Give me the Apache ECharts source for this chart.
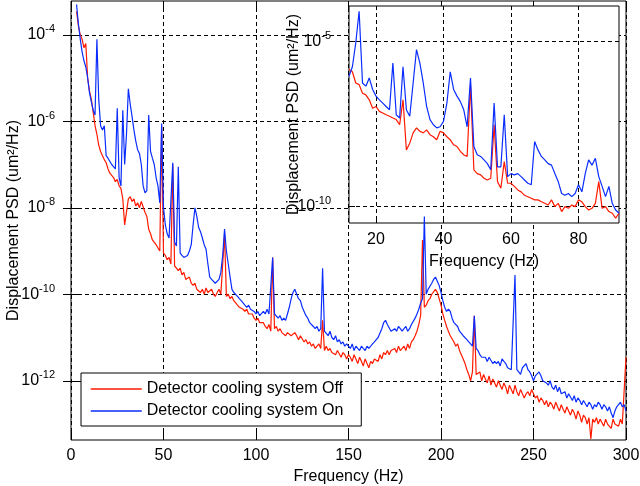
<!DOCTYPE html>
<html>
<head>
<meta charset="utf-8">
<script src="https://cdn.jsdelivr.net/npm/echarts@6/dist/echarts.min.js"></script>
<style>
  html, body { margin: 0; padding: 0; background: #fff; }
  #main { width: 640px; height: 486px; }
</style>
</head>
<body>
<div id="main"></div>
<script>
var myChart = echarts.init(document.getElementById('main'));

// main plot: one value per 1 Hz bin, starting at 3 Hz
var mainStart = 3;
var offMain = [
    3.5e-4, 1.6e-4, 1e-4, 7.9e-5, 5e-5, 6.3e-5, 1e-5, 5e-6, 3.2e-6, 1.6e-6,
    7.9e-7, 5e-7, 2.8e-7, 2e-7, 1.6e-7, 1.3e-7, 1.1e-7, 7.9e-8, 6.3e-8, 5.6e-8,
    5e-8, 4e-8, 4.5e-8, 3.2e-8, 2.8e-8, 1.6e-8, 4e-9, 7.9e-9, 1.6e-8, 1.8e-8,
    1.4e-8, 1.6e-8, 1.1e-8, 1.3e-8, 1e-8, 1.4e-8, 1.3e-8, 7.9e-9, 6.3e-9, 3.2e-9,
    2.5e-9, 1.8e-9, 2e-9, 1.4e-9, 1.3e-9, 1e-9, 7.9e-7, 8.9e-10, 7.9e-10, 6.3e-10,
    7.1e-10, 5e-10, 1e-7, 4.5e-10, 4e-10, 3.5e-10, 4e-10, 2.8e-10, 3.2e-10, 2.2e-10,
    2e-10, 2.5e-10, 1.8e-10, 1.6e-10, 1.8e-10, 1.3e-10, 1.4e-10, 1.1e-10, 1.3e-10, 1e-10,
    1.4e-10, 1.1e-10, 1e-10, 1.3e-10, 1e-10, 8.9e-11, 1.1e-10, 1.3e-10, 1e-10, 1.1e-10,
    2.5e-9, 8.9e-11, 1e-10, 7.9e-11, 8.9e-11, 7.1e-11, 6.3e-11, 5.6e-11, 5e-11, 5e-11,
    4.5e-11, 4e-11, 4.5e-11, 3.5e-11, 3.2e-11, 3.5e-11, 2.8e-11, 2.5e-11, 2.8e-11, 2.2e-11,
    2e-11, 2.2e-11, 1.8e-11, 1.6e-11, 2e-11, 1.4e-11, 7.1e-10, 1.6e-11, 1.8e-11, 1.4e-11,
    1.6e-11, 1.3e-11, 1.4e-11, 1.1e-11, 1.3e-11, 1.4e-11, 1.1e-11, 1e-11, 1.3e-11, 1.1e-11,
    8.9e-12, 1.1e-11, 1e-11, 7.9e-12, 8.9e-12, 7.1e-12, 7.9e-12, 6.3e-12, 7.1e-12, 5.6e-12,
    6.3e-12, 7.1e-12, 5.6e-12, 2.5e-11, 5e-12, 6.3e-12, 5e-12, 5.6e-12, 4.5e-12, 5e-12,
    4e-12, 5e-12, 4.5e-12, 3.5e-12, 4.5e-12, 4e-12, 3.2e-12, 4e-12, 3.5e-12, 2.8e-12,
    4e-12, 3.2e-12, 2.5e-12, 3.5e-12, 2.8e-12, 2.2e-12, 3.2e-12, 2.5e-12, 2e-12, 2.8e-12,
    2.5e-12, 3.2e-12, 3.5e-12, 2.8e-12, 4e-12, 3.2e-12, 4.5e-12, 4e-12, 5e-12, 4e-12,
    5e-12, 4.5e-12, 5.6e-12, 4.5e-12, 6.3e-12, 5e-12, 5.6e-12, 6.3e-12, 5e-12, 7.1e-12,
    5.6e-12, 7.9e-12, 8.9e-12, 1.1e-11, 1.4e-11, 2e-11, 3.2e-11, 1.8e-9, 5e-11, 5.6e-11,
    7.1e-11, 7.9e-11, 1e-10, 1.1e-10, 1.3e-10, 1.1e-10, 7.9e-11, 5.6e-11, 3.5e-11, 2.5e-11,
    1.8e-11, 1.4e-11, 1.1e-11, 1e-11, 7.9e-12, 6.3e-12, 7.1e-12, 5e-12, 4e-12, 3.2e-12,
    2.5e-12, 1.8e-12, 1.4e-12, 1e-12, 1.6e-12, 3.2e-11, 1.4e-12, 1.3e-12, 1.6e-12, 1e-12,
    1.4e-12, 1.1e-12, 8.9e-13, 1.3e-12, 7.9e-13, 1.1e-12, 8.9e-13, 7.1e-13, 1e-12, 7.9e-13,
    6.3e-13, 8.9e-13, 7.1e-13, 5e-13, 7.9e-13, 6.3e-13, 5e-13, 7.9e-13, 5.6e-13, 4.5e-13,
    6.3e-13, 5e-13, 4e-13, 5e-13, 5.6e-13, 4.5e-13, 6.3e-13, 5e-13, 4e-13, 4.5e-13,
    3.2e-13, 4e-13, 3.5e-13, 2.8e-13, 3.5e-13, 2.5e-13, 3.2e-13, 2.8e-13, 2.2e-13, 3.2e-13,
    2.5e-13, 2e-13, 2.8e-13, 2.2e-13, 1.8e-13, 2.5e-13, 2e-13, 1.6e-13, 2.2e-13, 1.8e-13,
    1.3e-13, 2e-13, 1.6e-13, 1.1e-13, 1.6e-13, 1.4e-13, 1e-13, 1.4e-13, 4.5e-14, 1.3e-13,
    1.1e-13, 1.4e-13, 1e-13, 1.3e-13, 1.4e-13, 8.9e-14, 1.3e-13, 1e-13, 1.1e-13, 7.9e-14,
    1.3e-13, 1e-13, 1.1e-13, 8.9e-14, 1.3e-13, 1e-13, 1.1e-13, 3.5e-12
];
var onMain = [
    5e-4, 1.8e-4, 7.9e-5, 4e-5, 2.5e-5, 1.8e-5, 1e-5, 4.5e-6, 2.8e-6, 1.8e-6,
    1.4e-6, 7.9e-5, 3.2e-6, 7.9e-7, 6.3e-7, 7.9e-7, 1.6e-7, 1.4e-7, 1.3e-7, 1e-7,
    8.9e-8, 7.9e-8, 2e-6, 5e-8, 3.2e-8, 1.8e-6, 1e-7, 5e-7, 5.6e-6, 2.5e-6,
    1.3e-6, 6.3e-7, 3.5e-7, 2.2e-7, 1.8e-7, 1e-7, 3.2e-8, 2.2e-8, 2.5e-8, 1.4e-6,
    2e-7, 1.4e-7, 1e-7, 5e-8, 3.2e-8, 1.3e-8, 8.9e-7, 1e-8, 4e-9, 2.5e-9,
    2e-9, 2.2e-9, 1.1e-7, 1.6e-9, 1.3e-9, 8.9e-8, 8.9e-10, 7.9e-10, 7.1e-10, 7.1e-10,
    7.9e-10, 1e-9, 1.4e-9, 4e-9, 1e-8, 6.3e-9, 3.5e-9, 2.8e-9, 2e-9, 1.4e-9,
    1.1e-9, 5e-10, 2.5e-10, 2.2e-10, 2e-10, 1.8e-10, 2e-10, 2.2e-10, 3.2e-10, 7.9e-10,
    3.2e-9, 1e-9, 5e-10, 2.5e-10, 1.3e-10, 1.1e-10, 1e-10, 8.9e-11, 7.9e-11, 7.1e-11,
    6.3e-11, 5.6e-11, 5e-11, 5.6e-11, 4.5e-11, 5e-11, 4e-11, 3.5e-11, 4e-11, 3.2e-11,
    3.5e-11, 4e-11, 3.5e-11, 4.5e-11, 3.5e-11, 3.2e-11, 7.1e-10, 3.5e-11, 3.2e-11, 2.8e-11,
    3.2e-11, 2.5e-11, 2.8e-11, 2.5e-11, 3.5e-11, 5e-11, 7.9e-11, 1.1e-10, 1.3e-10, 1e-10,
    7.9e-11, 7.1e-11, 5e-11, 4e-11, 3.2e-11, 2.8e-11, 2.2e-11, 2e-11, 1.8e-11, 1.6e-11,
    1.8e-11, 1.4e-11, 1.6e-11, 4e-10, 1.4e-11, 1.3e-11, 1.1e-11, 1.4e-11, 1e-11, 8.9e-12,
    1.1e-11, 7.9e-12, 8.9e-12, 7.1e-12, 7.9e-12, 6.3e-12, 7.1e-12, 6.3e-12, 5.6e-12, 7.1e-12,
    5e-12, 6.3e-12, 5.6e-12, 5e-12, 6.3e-12, 5.6e-12, 5e-12, 6.3e-12, 5.6e-12, 6.3e-12,
    7.1e-12, 7.9e-12, 8.9e-12, 1e-11, 1.1e-11, 1.6e-11, 2.2e-11, 2.5e-11, 2e-11, 1.8e-11,
    1.4e-11, 1.3e-11, 1.6e-11, 1.4e-11, 1.8e-11, 1.6e-11, 1.4e-11, 1.6e-11, 1.8e-11, 1.4e-11,
    1.6e-11, 2e-11, 2.2e-11, 2.8e-11, 3.5e-11, 4.5e-11, 6.3e-11, 7.9e-11, 6.3e-9, 1e-10,
    1.3e-10, 1.4e-10, 1.8e-10, 2.2e-10, 2.5e-10, 2e-10, 1.6e-10, 1.1e-10, 7.1e-11, 5e-11,
    4e-11, 4.5e-11, 4e-11, 2.8e-11, 2.2e-11, 2e-11, 1.8e-11, 1.4e-11, 1.3e-11, 1.1e-11,
    1e-11, 8.9e-12, 7.9e-12, 7.1e-12, 6.3e-12, 3.2e-11, 5.6e-12, 5e-12, 4e-12, 3.5e-12,
    3.2e-12, 3.5e-12, 2.8e-12, 3.5e-12, 3.2e-12, 2.5e-12, 2.8e-12, 2.5e-12, 2.8e-12, 2.2e-12,
    3.2e-12, 2.8e-12, 2.5e-12, 2e-12, 2.2e-12, 1.8e-12, 2e-12, 2.8e-10, 1.8e-12, 1.6e-12,
    1.4e-12, 2e-12, 2.2e-12, 2.5e-12, 1.8e-12, 1.6e-12, 1.3e-12, 1e-12, 1.3e-12, 1.4e-12,
    1.6e-12, 1.3e-12, 1e-12, 1.1e-12, 8.9e-13, 7.9e-13, 1e-12, 7.1e-13, 6.3e-13, 7.9e-13,
    5.6e-13, 7.1e-13, 5e-13, 4.5e-13, 5.6e-13, 4e-13, 5e-13, 4.5e-13, 3.5e-13, 4.5e-13,
    3.2e-13, 4e-13, 3.5e-13, 2.8e-13, 3.5e-13, 3.2e-13, 2.5e-13, 3.2e-13, 2.8e-13, 2.2e-13,
    2.8e-13, 2.5e-13, 3.2e-13, 2.8e-13, 2.2e-13, 2.8e-13, 2.5e-13, 2e-13, 2.5e-13, 1.8e-13,
    1.4e-13, 2e-13, 2.5e-13, 2.8e-13, 3.2e-13, 2.5e-13, 2.8e-13, 2e-13
];

// inset: 12 .. 92 Hz, 1 Hz bins
var insetStart = 12;
var offInset = [
    1.4e-6, 1.2e-6, 5.5e-7, 4.9e-7, 2.7e-7, 2.4e-7, 1.7e-7, 9.5e-8, 1.07e-7, 7.6e-8,
    6.8e-8, 6.0e-8, 5.4e-8, 4.8e-8, 4.3e-8, 3.0e-8, 1.7e-7, 5.2e-9, 8.3e-9, 1.7e-8,
    2.4e-8, 1.9e-8, 1.7e-8, 2.1e-8, 1.5e-8, 1.3e-8, 1.05e-8, 1.9e-8, 1.7e-8, 1.3e-8,
    1.05e-8, 7.4e-9, 6.6e-9, 4.7e-9, 3.7e-9, 3.3e-9, 4.9e-7, 1.3e-9, 1.0e-9, 9.1e-10,
    7.2e-10, 6.4e-10, 7.2e-10, 3.0e-8, 5.7e-10, 3.6e-10, 2.3e-9, 5.1e-10, 5.1e-10, 4.1e-10,
    3.2e-10, 2.8e-10, 2.2e-10, 2.0e-10, 1.8e-10, 1.6e-10, 1.6e-10, 1.4e-10, 1.26e-10, 1.12e-10,
    1.6e-10, 1.0e-10, 1.26e-10, 7.1e-11, 1.0e-10, 8.9e-11, 1.12e-10, 1.0e-10, 1.6e-10, 1.4e-10,
    1.0e-10, 7.9e-11, 8.9e-11, 1.26e-10, 5.7e-10, 8.9e-11, 1.0e-10, 7.1e-11, 6.3e-11, 4.5e-11,
    6.3e-11
];
var onInset = [
    8.7e-7, 1.7e-6, 8.9e-6, 8.1e-5, 5.5e-7, 4.4e-7, 7.8e-7, 3.5e-7, 2.2e-7, 1.7e-7,
    1.35e-7, 1.07e-7, 8.5e-8, 2.2e-6, 6.0e-8, 4.8e-8, 1.7e-6, 8.5e-8, 5.4e-8, 5.5e-7,
    5.6e-6, 2.2e-6, 5.5e-7, 1.07e-7, 4.3e-8, 3.0e-8, 2.4e-8, 2.6e-8, 3.8e-8, 1.35e-7,
    1.2e-6, 3.5e-7, 2.2e-7, 1.5e-7, 8.5e-8, 2.6e-8, 7.8e-7, 6.6e-9, 3.7e-9, 3.3e-9,
    2.6e-9, 2.0e-9, 1.3e-9, 1.35e-7, 1.6e-9, 1.6e-9, 6.0e-8, 8.1e-10, 1.0e-9, 9.1e-10,
    1.0e-9, 8.1e-10, 6.4e-10, 5.1e-10, 4.6e-10, 9.3e-9, 5.2e-9, 3.3e-9, 2.6e-9, 2.0e-9,
    1.8e-9, 1.0e-9, 5.7e-10, 2.5e-10, 2.2e-10, 2.5e-10, 2.0e-10, 2.5e-10, 4.6e-10, 2.8e-10,
    1.0e-9, 2.6e-9, 1.8e-9, 2.9e-9, 8.1e-10, 4.1e-10, 2.0e-10, 4.1e-10, 1.26e-10, 7.9e-11,
    6.3e-11
];

var mainYTicks = [1e-12, 1e-10, 1e-8, 1e-6, 1e-4];
var insetXTicks = [20, 40, 60, 80];
var insetYTicks = [1e-10, 1e-5];
var names = ['Detector cooling system Off', 'Detector cooling system On'];

var font = '"Liberation Sans", Arial, Helvetica, sans-serif';
var redColor = '#ff1a00';
var blueColor = '#0a2dff';

function bins(start, vals) {
    return vals.map(function (v, i) { return [start + i, v]; });
}
function expLabel(v) {
    var e = Math.round(Math.log(v) / Math.LN10);
    return '{b|10}{s|' + e + '}';
}
var expRich = {
    b: { fontSize: 16, fontFamily: font, color: '#000', lineHeight: 22 },
    s: { fontSize: 11, fontFamily: font, color: '#000', lineHeight: 11, verticalAlign: 'top' }
};
var dashed = { color: '#000', width: 1, type: [4, 3] };
var nameStyle = { fontSize: 16, fontFamily: font, color: '#000' };

var option = {
    animation: false,
    backgroundColor: '#fff',
    grid: [
        { left: 71, top: 1, width: 555, height: 439, show: true, backgroundColor: '#fff', borderColor: '#000', borderWidth: 1, z: 0, outerBoundsMode: 'none', containLabel: false },
        { left: 349, top: 6, width: 270, height: 217, show: true, backgroundColor: '#fff', borderColor: '#000', borderWidth: 1, z: 3, outerBoundsMode: 'none', containLabel: false }
    ],
    legend: {
        data: names,
        orient: 'vertical',
        left: 81,
        top: 373,
        padding: [8, 18, 7, 9],
        itemGap: 6,
        itemWidth: 51,
        itemHeight: 14,
        backgroundColor: '#fff',
        borderColor: '#000',
        borderWidth: 1,
        borderRadius: 0,
        selectedMode: false,
        itemStyle: { opacity: 0 },
        lineStyle: { width: 1.5 },
        textStyle: { fontSize: 16, fontFamily: font, color: '#000' }
    },
    xAxis: [
        {
            gridIndex: 0, type: 'value', min: 0, max: 300, interval: 50,
            name: 'Frequency (Hz)', nameLocation: 'middle', nameGap: 29, nameMoveOverlap: false, nameTextStyle: nameStyle,
            axisLine: { show: false },
            axisTick: { inside: true, length: 8, lineStyle: { color: '#000' } },
            axisLabel: { fontSize: 16, fontFamily: font, color: '#000', margin: 8 },
            splitLine: { show: true, lineStyle: dashed }
        },
        {
            gridIndex: 0, type: 'value', position: 'top', min: 0, max: 300, interval: 50,
            axisLine: { show: false },
            axisTick: { inside: true, length: 8, lineStyle: { color: '#000' } },
            axisLabel: { show: false },
            splitLine: { show: false }
        },
        {
            gridIndex: 1, type: 'value', min: 12, max: 92, z: 4,
            name: 'Frequency (Hz)', nameLocation: 'middle', nameGap: 31, nameMoveOverlap: false, nameTextStyle: nameStyle,
            axisLine: { show: false },
            axisTick: { inside: true, length: 6, customValues: insetXTicks, lineStyle: { color: '#000' } },
            axisLabel: { fontSize: 16, fontFamily: font, color: '#000', margin: 9, customValues: insetXTicks },
            splitLine: { show: true, lineStyle: dashed }
        }
    ],
    yAxis: [
        {
            gridIndex: 0, type: 'log', logBase: 10, min: 4.27e-14, max: 6.03e-4,
            name: 'Displacement PSD (um²/Hz)', nameLocation: 'middle', nameGap: 49, nameMoveOverlap: false, nameTextStyle: nameStyle,
            axisLine: { show: false },
            axisTick: { inside: true, length: 8, customValues: mainYTicks, lineStyle: { color: '#000' } },
            axisLabel: { formatter: expLabel, rich: expRich, margin: 16, customValues: mainYTicks },
            splitLine: { show: true, lineStyle: dashed }
        },
        {
            gridIndex: 0, type: 'log', logBase: 10, position: 'right', min: 4.27e-14, max: 6.03e-4,
            axisLine: { show: false },
            axisTick: { inside: true, length: 8, customValues: mainYTicks, lineStyle: { color: '#000' } },
            axisLabel: { show: false },
            splitLine: { show: false }
        },
        {
            gridIndex: 1, type: 'log', logBase: 10, min: 3.2e-11, max: 1.17e-4, z: 4,
            name: 'Displacement PSD (um²/Hz)', nameLocation: 'middle', nameGap: 47, nameMoveOverlap: false, nameTextStyle: nameStyle,
            axisLine: { show: false },
            axisTick: { inside: true, length: 6, customValues: insetYTicks, lineStyle: { color: '#000' } },
            axisLabel: { formatter: expLabel, rich: expRich, margin: 18, customValues: insetYTicks },
            splitLine: { show: true, lineStyle: dashed }
        }
    ],
    series: [
        {
            name: names[0], type: 'line', xAxisIndex: 0, yAxisIndex: 0, symbol: 'none',
            lineStyle: { color: redColor, width: 1.2 }, itemStyle: { color: redColor },
            data: bins(mainStart, offMain)
        },
        {
            name: names[1], type: 'line', xAxisIndex: 0, yAxisIndex: 0, symbol: 'none',
            lineStyle: { color: blueColor, width: 1.2 }, itemStyle: { color: blueColor },
            data: bins(mainStart, onMain)
        },
        {
            name: names[0], type: 'line', xAxisIndex: 2, yAxisIndex: 2, symbol: 'none', z: 5,
            lineStyle: { color: redColor, width: 1.2 }, itemStyle: { color: redColor },
            data: bins(insetStart, offInset)
        },
        {
            name: names[1], type: 'line', xAxisIndex: 2, yAxisIndex: 2, symbol: 'none', z: 5,
            lineStyle: { color: blueColor, width: 1.2 }, itemStyle: { color: blueColor },
            data: bins(insetStart, onInset)
        }
    ]
};

myChart.setOption(option);
</script>
</body>
</html>
